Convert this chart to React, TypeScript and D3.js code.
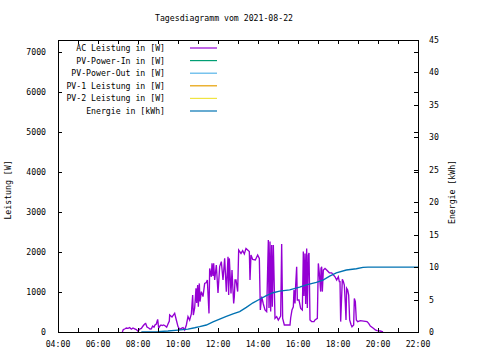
import * as d3 from "d3";

// AC Leistung [W] over the day
const acTimes = [
  "07:13", "07:16", "07:20", "07:25", "07:30", "07:35", "07:40", "07:45", "07:50", "07:55",
  "08:00", "08:05", "08:10", "08:15", "08:20", "08:23", "08:27", "08:32", "08:36", "08:40",
  "08:44", "08:48", "08:51", "08:55", "08:59", "09:02", "09:06", "09:09", "09:13", "09:17",
  "09:22", "09:26", "09:30", "09:34", "09:35", "09:42", "09:46", "09:50", "09:55", "10:00",
  "10:05", "10:10", "10:15", "10:20", "10:25", "10:30", "10:35", "10:40", "10:44", "10:46",
  "10:50", "10:54", "10:56", "10:59", "11:01", "11:04", "11:06", "11:10", "11:15", "11:20",
  "11:25", "11:28", "11:33", "11:35", "11:40", "11:42", "11:45", "11:47", "11:50", "11:55",
  "12:00", "12:05", "12:10", "12:15", "12:20", "12:25", "12:30", "12:32", "12:34", "12:37",
  "12:39", "12:42", "12:44", "12:47", "12:49", "12:51", "12:54", "12:59", "13:02", "13:09",
  "13:14", "13:19", "13:24", "13:29", "13:34", "13:36", "13:39", "13:44", "13:52", "13:59",
  "14:04", "14:07", "14:11", "14:16", "14:21", "14:26", "14:31", "14:33", "14:36", "14:38",
  "14:41", "14:43", "14:46", "14:51", "14:56", "15:01", "15:08", "15:11", "15:14", "15:19",
  "15:26", "15:36", "15:38", "15:42", "15:46", "15:48", "15:51", "15:53", "15:56", "15:58",
  "16:03", "16:08", "16:13", "16:16", "16:18", "16:21", "16:23", "16:26", "16:28", "16:31",
  "16:33", "16:36", "16:41", "16:48", "16:51", "16:58", "17:01", "17:04", "17:08", "17:09",
  "17:11", "17:13", "17:16", "17:21", "17:26", "17:34", "17:41", "17:51", "17:56", "18:01",
  "18:04", "18:06", "18:08", "18:13", "18:16", "18:19", "18:22", "18:24", "18:26", "18:29",
  "18:32", "18:35", "18:39", "18:42", "18:47", "18:49", "18:52", "18:55", "18:59", "19:07",
  "19:27", "19:32", "19:37", "19:47", "19:52", "19:57", "20:07", "20:15",
];
const acPower = [
  0, 60, 75, 100, 90, 110, 70, 100, 80, 60,
  20, 75, 90, 150, 200, 215, 125, 100, 75, 80,
  150, 120, 175, 200, 315, 100, 150, 175, 160, 175,
  150, 120, 200, 275, 425, 375, 420, 465, 300, 135,
  65, 90, 110, 50, 175, 385, 300, 450, 925, 425,
  600, 1090, 725, 1175, 630, 1215, 760, 1010, 885, 1215,
  1235, 1300, 465, 1590, 1380, 1715, 1400, 1715, 1300, 1675,
  975, 1635, 1760, 1300, 1840, 1010, 1880, 925, 1840, 1300,
  965, 1550, 1200, 715, 885, 1300, 1300, 1010, 2050, 1965,
  2035, 1950, 2090, 2050, 2010, 1300, 1925, 1815, 1800, 1925,
  1840, 550, 885, 700, 550, 510, 2300, 600, 2260, 510,
  2175, 630, 2175, 340, 385, 300, 400, 2200, 340, 175,
  175, 175, 350, 550, 630, 1050, 715, 1175, 1630, 800,
  800, 590, 550, 2010, 900, 1965, 700, 2090, 600, 1925,
  1975, 300, 260, 260, 300, 340, 1715, 1465, 1010, 1590,
  1630, 1010, 1550, 1590, 1550, 1480, 1480, 1380, 1300, 1380,
  1260, 1260, 260, 1315, 1260, 1175, 700, 300, 1090, 1050,
  925, 300, 190, 130, 175, 840, 760, 300, 260, 285,
  260, 215, 150, 90, 50, 35, 25, 0,
];

// Energie [kWh] (cumulative)
const energyTimes = [
  "08:10", "09:00", "09:30", "10:00", "10:30", "10:50", "11:05", "11:25", "11:45", "12:05",
  "12:25", "12:45", "13:05", "13:25", "13:45", "14:05", "14:25", "14:45", "15:05", "15:35",
  "16:05", "16:25", "16:55", "17:15", "17:35", "17:55", "18:25", "18:55", "19:15", "19:30",
  "22:00",
];
const energyValues = [
  0, 0.05, 0.15, 0.3, 0.45, 0.65, 0.82, 1.08, 1.55, 1.98,
  2.4, 2.8, 3.15, 3.8, 4.5, 5.05, 5.6, 6.05, 6.3, 6.5,
  6.9, 7.25, 7.65, 8.0, 8.6, 9.1, 9.55, 9.75, 9.95, 10.0,
  10.0,
];

const legendLabels = [
  "AC Leistung in [W]",
  "PV-Power-In in [W]",
  "PV-Power-Out in [W]",
  "PV-1 Leistung in [W]",
  "PV-2 Leistung in [W]",
  "Energie in [kWh]",
];
const legendColors = ["#9400d3", "#009e73", "#56b4e9", "#e69f00", "#f0e442", "#0072b2"];

const xTickHours = d3.range(4, 23, 1);
const xLabelHours = d3.range(4, 23, 2);
const yTicks = d3.range(0, 7001, 1000);
const y2Ticks = d3.range(0, 46, 5);

const toHours = (t: string) => {
  const [h, m] = t.split(":").map(Number);
  return h + m / 60;
};
const fmtHour = (h: number) => `${String(h).padStart(2, "0")}:00`;

export default function App() {
  const width = 480;
  const height = 360;
  const marginLeft = 58;
  const marginRight = 62;
  const marginTop = 40;
  const marginBottom = 28;
  const font = "'DejaVu Sans Mono', monospace";
  const fs = 8.2;

  const x = d3.scaleLinear().domain([4, 22]).range([marginLeft, width - marginRight]);
  const y = d3.scaleLinear().domain([0, 7300]).range([height - marginBottom, marginTop]);
  const y2 = d3.scaleLinear().domain([0, 45]).range([height - marginBottom, marginTop]);

  const x0 = marginLeft;
  const x1 = width - marginRight;
  const yb = height - marginBottom;
  const yt = marginTop;

  const acLine = d3
    .line<number>()
    .x((_, i) => x(toHours(acTimes[i])))
    .y((d) => y(d))(acPower);

  const energyLine = d3
    .line<number>()
    .x((_, i) => x(toHours(energyTimes[i])))
    .y((d) => y2(d))(energyValues);

  const tick = 4;

  return (
    <svg
      width={width}
      height={height}
      style={{ position: "absolute", left: 0, top: 0, background: "#fff" }}
      fontFamily={font}
      fontSize={fs}
    >
      <text x={224} y={21} textAnchor="middle">
        Tagesdiagramm vom 2021-08-22
      </text>

      {/* data */}
      <path d={acLine ?? ""} fill="none" stroke={legendColors[0]} strokeWidth={1.35} />
      <path d={energyLine ?? ""} fill="none" stroke={legendColors[5]} strokeWidth={1.35} />

      <g shapeRendering="crispEdges" stroke="#000" strokeWidth={1}>
        <rect x={x0 + 0.5} y={yt + 0.5} width={x1 - x0} height={yb - yt} fill="none" />
        {xTickHours.map((h) => (
          <g key={"xt" + h}>
            <line x1={x(h) + 0.5} x2={x(h) + 0.5} y1={yb} y2={yb - tick} />
            <line x1={x(h) + 0.5} x2={x(h) + 0.5} y1={yt} y2={yt + tick} />
          </g>
        ))}
        {yTicks.map((v) => (
          <g key={"yt" + v}>
            <line x1={x0} x2={x0 + tick} y1={y(v) + 0.5} y2={y(v) + 0.5} />
            <line x1={x1} x2={x1 - tick} y1={y(v) + 0.5} y2={y(v) + 0.5} />
          </g>
        ))}
        {y2Ticks.map((v) => (
          <line key={"y2t" + v} x1={x1} x2={x1 - tick} y1={y2(v) + 0.5} y2={y2(v) + 0.5} />
        ))}
      </g>

      {yTicks.map((v) => (
        <text key={"yl" + v} x={46} y={y(v) + 3} textAnchor="end">
          {v}
        </text>
      ))}
      {y2Ticks.map((v) => (
        <text key={"y2l" + v} x={429} y={y2(v) + 3} textAnchor="start">
          {v}
        </text>
      ))}
      {xLabelHours.map((h) => (
        <text key={"xl" + h} x={x(h)} y={347} textAnchor="middle">
          {fmtHour(h)}
        </text>
      ))}

      <text transform="translate(11,190) rotate(-90)" textAnchor="middle">
        Leistung [W]
      </text>
      <text transform="translate(455,192) rotate(-90)" textAnchor="middle">
        Energie [kWh]
      </text>

      {legendLabels.map((label, i) => {
        const ly = 48 + i * 12.6;
        return (
          <g key={label}>
            <text x={165} y={ly + 3} textAnchor="end">
              {label}
            </text>
            <line
              x1={190}
              x2={217}
              y1={ly}
              y2={ly}
              stroke={legendColors[i]}
              strokeWidth={1.2}
            />
          </g>
        );
      })}
    </svg>
  );
}
